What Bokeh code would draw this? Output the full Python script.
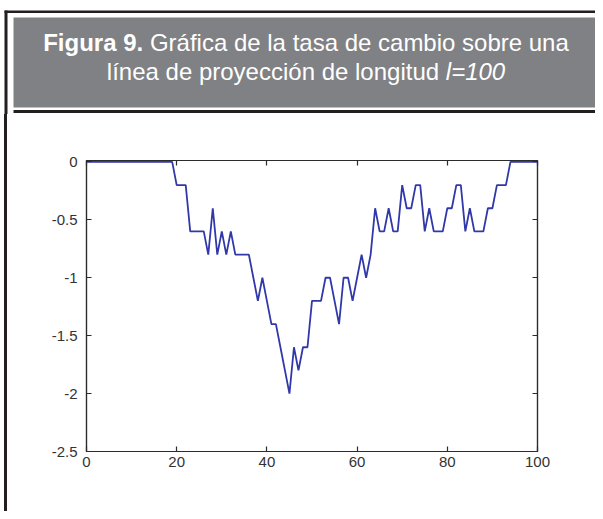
from bokeh.plotting import figure
from bokeh.models import Range1d, FixedTicker, LinearAxis
from bokeh.layouts import column, row
from bokeh.core.properties import value
from bokeh.embed import file_html
from bokeh.resources import INLINE

# ---------------- data ----------------
x_vals = list(range(0, 101))
rate_vals = (
    [0.0] * 20
    + [-0.2, -0.2, -0.2,
       -0.6, -0.6, -0.6, -0.6,
       -0.8, -0.4, -0.8, -0.6, -0.8, -0.6,
       -0.8, -0.8, -0.8, -0.8,
       -1.0, -1.2, -1.0, -1.2, -1.4, -1.4, -1.6, -1.8, -2.0, -1.6, -1.8, -1.6, -1.6,
       -1.2, -1.2, -1.2, -1.0, -1.0, -1.2, -1.4, -1.0, -1.0, -1.2, -1.0, -0.8, -1.0, -0.8,
       -0.4, -0.6, -0.6, -0.4, -0.6, -0.6, -0.2, -0.4, -0.4, -0.2, -0.2,
       -0.6, -0.4, -0.6, -0.6, -0.6, -0.4, -0.4, -0.2, -0.2,
       -0.6, -0.4, -0.6, -0.6, -0.6, -0.4, -0.4, -0.2, -0.2, -0.2]
    + [0.0] * 7
)
x_ticks = [0, 20, 40, 60, 80, 100]
x_tick_labels = ["0", "20", "40", "60", "80", "100"]
y_ticks = [0, -0.5, -1, -1.5, -2, -2.5]
y_tick_labels = ["0", "-0.5", "-1", "-1.5", "-2", "-2.5"]

title_bold = "Figura 9."
title_rest = "Gráfica de la tasa de cambio sobre una"
title_line2 = "línea de proyección de longitud"
title_italic = "l=100"

FONT = "Liberation Sans"
DARK = "#231f20"
GREY = "#808184"
LINE_BLUE = "#3038aa"
AX = "#2b2b2b"

TOTAL_W = 595
HH = 114
CH = 397

# ---------------- header ----------------
h = figure(width=TOTAL_W, height=HH, x_range=Range1d(0, TOTAL_W), y_range=Range1d(HH, 0),
           output_backend="svg", toolbar_location=None, min_border=0,
           x_axis_type=None, y_axis_type=None, outline_line_color=None)
h.grid.visible = False
h.quad(left=4, right=TOTAL_W, top=10, bottom=12.5, fill_color=DARK, line_color=None)
h.quad(left=4, right=7, top=10, bottom=HH, fill_color=DARK, line_color=None)
h.quad(left=13, right=TOTAL_W, top=17, bottom=107, fill_color=GREY, line_color=None)
h.quad(left=13, right=TOTAL_W, top=109.5, bottom=112.5, fill_color=DARK, line_color=None)

fs = value("24px")
L1, L2 = 42, 71
h.text(x=[142.7], y=[L1], text=[title_bold], text_font=value(FONT), text_font_style="bold",
       text_font_size=fs, text_color="white", text_align="right", text_baseline="alphabetic")
h.text(x=[149.4], y=[L1], text=[title_rest], text_font=value(FONT), text_font_style="normal",
       text_font_size=fs, text_color="white", text_align="left", text_baseline="alphabetic")
h.text(x=[438.6], y=[L2], text=[title_line2], text_font=value(FONT), text_font_style="normal",
       text_font_size=fs, text_color="white", text_align="right", text_baseline="alphabetic")
h.text(x=[445.3], y=[L2], text=[title_italic], text_font=value(FONT), text_font_style="italic",
       text_font_size=fs, text_color="white", text_align="left", text_baseline="alphabetic")

# ---------------- chart ----------------
CW = TOTAL_W - 7
p = figure(width=CW, height=CH, x_range=Range1d(0, 100), y_range=Range1d(-2.5, 0.012),
           output_backend="svg", toolbar_location=None,
           min_border_left=79, min_border_right=CW - (537 - 7), min_border_top=46,
           min_border_bottom=CH - (451 - HH),
           outline_line_color=AX, outline_line_width=1.2)
p.styles = {"margin-left": "4px", "border-left": "3px solid #231f20"}
p.grid.visible = False
p.line(x_vals, rate_vals, line_color=LINE_BLUE, line_width=1.8)

def style_axis(ax, labels=True):
    ax.axis_line_color = AX
    ax.axis_line_width = 1.2
    ax.major_tick_line_color = AX
    ax.major_tick_line_width = 1.2
    ax.major_tick_in = 5
    ax.major_tick_out = 0
    ax.minor_tick_line_color = None
    ax.major_label_text_font = FONT
    ax.major_label_text_font_size = "15px"
    ax.major_label_text_color = "#333333" if labels else None

p.xaxis.ticker = FixedTicker(ticks=x_ticks)
p.xaxis.major_label_overrides = dict(zip(x_ticks, x_tick_labels))
p.yaxis.ticker = FixedTicker(ticks=y_ticks)
p.yaxis.major_label_overrides = dict(zip(y_ticks, y_tick_labels))
style_axis(p.xaxis[0])
style_axis(p.yaxis[0])
p.xaxis.major_label_standoff = 5
p.yaxis.major_label_standoff = 9

top_ax = LinearAxis(ticker=FixedTicker(ticks=x_ticks))
style_axis(top_ax, labels=False)
p.add_layout(top_ax, "above")
right_ax = LinearAxis(ticker=FixedTicker(ticks=y_ticks))
style_axis(right_ax, labels=False)
p.add_layout(right_ax, "right")

layout = column(h, row(p))
open("out.html", "w").write(file_html(layout, INLINE))
